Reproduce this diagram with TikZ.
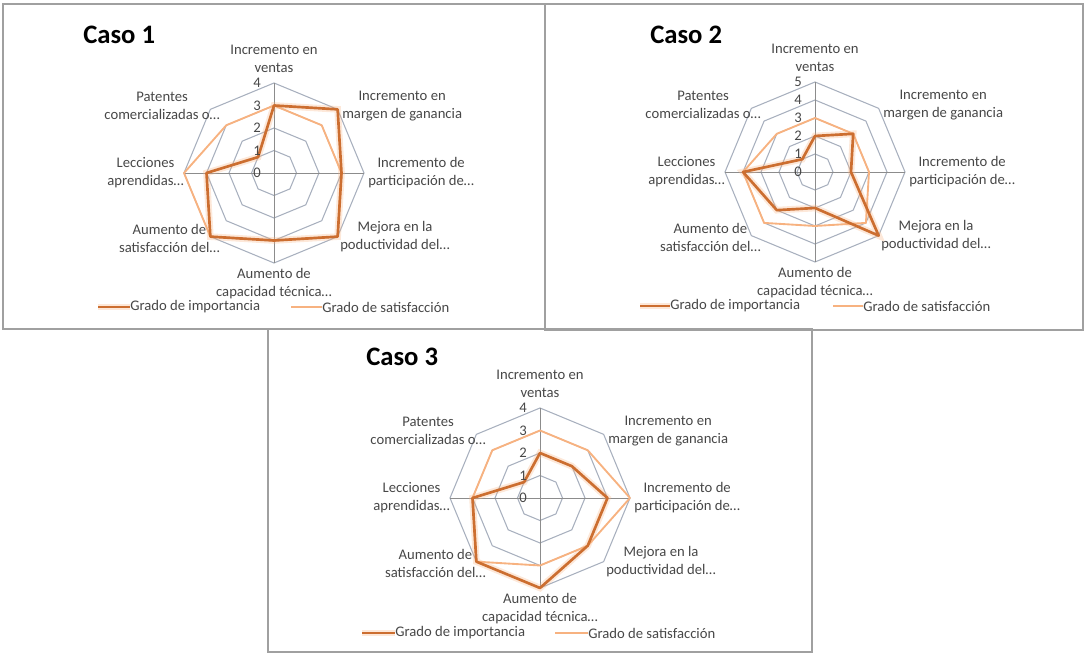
\documentclass[tikz,border=0pt]{standalone}
\usepackage{fontspec}
\setmainfont{Carlito}
\usepackage{tikz}
\usetikzlibrary{positioning}
\usepackage{xcolor}

\definecolor{naranjaosc}{RGB}{204,110,48}
\definecolor{naranjacla}{RGB}{247,178,128}
\definecolor{rejilla}{RGB}{168,176,190}
\definecolor{gris}{RGB}{140,140,140}
\definecolor{marco}{RGB}{160,160,160}

\begin{document}
\begin{tikzpicture}[x=0.75pt, y=0.75pt,
		every node/.style={text=black!72, font=\fontsize{11}{13.5}\selectfont},
		titulo/.style={anchor=west, inner sep=0pt, text=black, font=\fontsize{20}{24}\selectfont\bfseries},
		etiq/.style={align=center, inner sep=0pt},
		valor/.style={anchor=east, inner sep=0pt},
		leyenda/.style={anchor=west, inner sep=0pt},
		marcopanel/.style={draw=marco, line width=1.1pt},
		malla/.style={draw=rejilla, line width=0.8pt},
		eje/.style={draw=gris, line width=0.7pt},
		impo/.style={draw=naranjaosc, line width=2pt, line join=round,
			preaction={draw=naranjacla, line width=5pt, opacity=0.3}},
		sati/.style={draw=naranjacla, line width=1.4pt, line join=round}
		]
		\useasboundingbox (0,0) rectangle (1085,656);
		
		% Marcos
		\draw[marcopanel] (3,327) rectangle (545,652);
		\draw[marcopanel] (545,326) rectangle (1083,652);
		\draw[marcopanel] (268,4) rectangle (812,327);
		
		% Caso 1
		\begin{scope}[shift={(274,483)}]
			\begin{scope}[scale=22.5]
				\foreach \r in {1,...,4}
					\draw[malla] (90:\r) -- (45:\r) -- (0:\r) -- (-45:\r) -- (-90:\r) -- (-135:\r) -- (180:\r) -- (135:\r) -- cycle;
				\draw[eje] (90:4) -- (-90:4) (180:4) -- (0:4);
				\draw[sati] (90:3) -- (45:3) -- (0:3) -- (-45:4) -- (-90:3) -- (-135:4) -- (180:4) -- (135:3) -- cycle;
				\draw[impo] (90:3) -- (45:4) -- (0:3) -- (-45:4) -- (-90:3) -- (-135:4) -- (180:3) -- (135:1) -- cycle;
			\end{scope}
			\foreach \r in {0,...,4}
				\node[valor] (n1-\r) at (-13,{\r*22.5}) {\r};
			\node[titulo] (caso1) at (-191,138) {Caso 1};
			\node[etiq] (ven1) at (0,114) {Incremento en\\ventas};
			\node[etiq, anchor=west] (mar1) at (68,67) {Incremento en\\margen de ganancia};
			\node[etiq, anchor=west] (par1) at (94,0) {Incremento de\\participación de…};
			\node[etiq, anchor=west] (mej1) at (66,-64) {Mejora en la\\poductividad del…};
			\node[etiq] (cap1) at (0,-111) {Aumento de\\capacidad técnica…};
			\node[etiq, anchor=east] (sat1) at (-54,-65) {Aumento de\\satisfacción del…};
			\node[etiq, anchor=east] (lec1) at (-90,0) {Lecciones\\aprendidas…};
			\node[etiq, anchor=east] (pat1) at (-54,67) {Patentes\\comercializadas o…};
			% leyenda
			\node[leyenda] (limp1) at (-144,-134) {Grado de importancia};
			\node[leyenda] (lsat1) at (48,-134) {Grado de satisfacción};
			\coordinate (cimp1) at (-176,-134);
			\coordinate (csat1) at (17,-134);
			\draw[impo] (cimp1) -- (limp1.west);
			\draw[sati] (csat1) -- (lsat1.west);
		\end{scope}
		
		% Caso 2
		\begin{scope}[shift={(815,484)}]
			\begin{scope}[scale=18]
				\foreach \r in {1,...,5}
					\draw[malla] (90:\r) -- (45:\r) -- (0:\r) -- (-45:\r) -- (-90:\r) -- (-135:\r) -- (180:\r) -- (135:\r) -- cycle;
				\draw[eje] (90:5) -- (-90:5) (180:5) -- (0:5);
				\draw[sati] (90:3) -- (45:3) -- (0:3) -- (-45:4) -- (-90:3) -- (-135:4) -- (180:4) -- (135:3) -- cycle;
				\draw[impo] (90:2) -- (45:3) -- (0:2) -- (-45:5) -- (-90:2) -- (-135:3) -- (180:4) -- (135:1) -- cycle;
			\end{scope}
			\foreach \r in {0,...,5}
				\node[valor] (n2-\r) at (-13,{\r*18}) {\r};
			\node[titulo] (caso2) at (-165,137) {Caso 2};
			\node[etiq] (ven2) at (0,114) {Incremento en\\ventas};
			\node[etiq, anchor=west] (mar2) at (68,67) {Incremento en\\margen de ganancia};
			\node[etiq, anchor=west] (par2) at (94,0) {Incremento de\\participación de…};
			\node[etiq, anchor=west] (mej2) at (66,-64) {Mejora en la\\poductividad del…};
			\node[etiq] (cap2) at (0,-111) {Aumento de\\capacidad técnica…};
			\node[etiq, anchor=east] (sat2) at (-54,-65) {Aumento de\\satisfacción del…};
			\node[etiq, anchor=east] (lec2) at (-90,0) {Lecciones\\aprendidas…};
			\node[etiq, anchor=east] (pat2) at (-54,67) {Patentes\\comercializadas o…};
			% leyenda
			\node[leyenda] (limp2) at (-145,-134) {Grado de importancia};
			\node[leyenda] (lsat2) at (48,-134) {Grado de satisfacción};
			\coordinate (cimp2) at (-175,-134);
			\coordinate (csat2) at (18,-134);
			\draw[impo] (cimp2) -- (limp2.west);
			\draw[sati] (csat2) -- (lsat2.west);
		\end{scope}
		
		% Caso 3
		\begin{scope}[shift={(540,158)}]
			\begin{scope}[scale=22.5]
				\foreach \r in {1,...,4}
					\draw[malla] (90:\r) -- (45:\r) -- (0:\r) -- (-45:\r) -- (-90:\r) -- (-135:\r) -- (180:\r) -- (135:\r) -- cycle;
				\draw[eje] (90:4) -- (-90:4) (180:4) -- (0:4);
				\draw[sati] (90:3) -- (45:3) -- (0:4) -- (-45:3) -- (-90:3) -- (-135:4) -- (180:3) -- (135:3) -- cycle;
				\draw[impo] (90:2) -- (45:2) -- (0:3) -- (-45:3) -- (-90:4) -- (-135:4) -- (180:3) -- (135:1) -- cycle;
			\end{scope}
			\foreach \r in {0,...,4}
				\node[valor] (n3-\r) at (-13,{\r*22.5}) {\r};
			\node[titulo] (caso3) at (-174,141) {Caso 3};
			\node[etiq] (ven3) at (0,114) {Incremento en\\ventas};
			\node[etiq, anchor=west] (mar3) at (68,67) {Incremento en\\margen de ganancia};
			\node[etiq, anchor=west] (par3) at (94,0) {Incremento de\\participación de…};
			\node[etiq, anchor=west] (mej3) at (66,-64) {Mejora en la\\poductividad del…};
			\node[etiq] (cap3) at (0,-111) {Aumento de\\capacidad técnica…};
			\node[etiq, anchor=east] (sat3) at (-54,-65) {Aumento de\\satisfacción del…};
			\node[etiq, anchor=east] (lec3) at (-90,0) {Lecciones\\aprendidas…};
			\node[etiq, anchor=east] (pat3) at (-54,67) {Patentes\\comercializadas o…};
			% leyenda
			\node[leyenda] (limp3) at (-145,-135) {Grado de importancia};
			\node[leyenda] (lsat3) at (48,-135) {Grado de satisfacción};
			\coordinate (cimp3) at (-178,-135);
			\coordinate (csat3) at (15,-135);
			\draw[impo] (cimp3) -- (limp3.west);
			\draw[sati] (csat3) -- (lsat3.west);
		\end{scope}
		
	\end{tikzpicture}
\end{document}
